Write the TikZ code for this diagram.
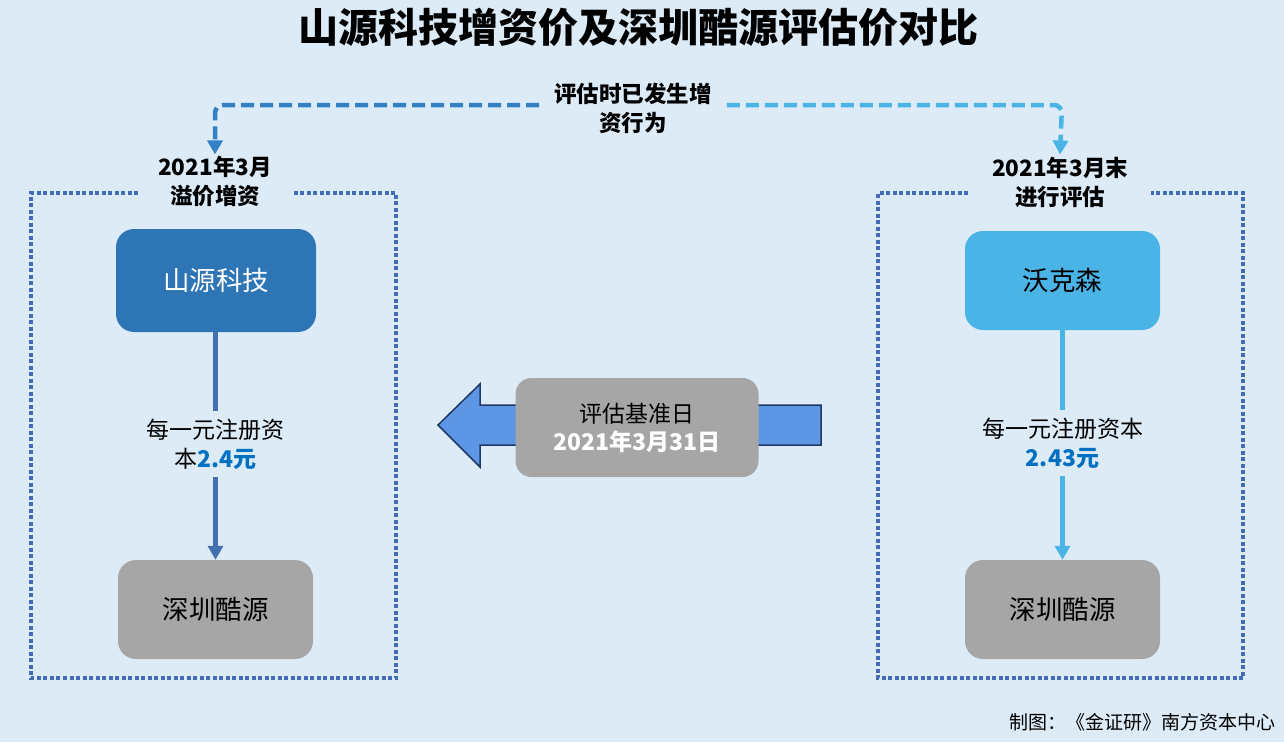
\documentclass[tikz,border=0pt]{standalone}
\usepackage{fontspec}
\setmainfont{Noto Sans CJK SC}
\usetikzlibrary{arrows.meta}
\definecolor{bg}{RGB}{221,235,247}
\definecolor{dkblue}{RGB}{46,117,182}
\definecolor{ltblue}{RGB}{75,180,230}
\definecolor{midblue}{RGB}{68,112,176}
\definecolor{dotblue}{RGB}{68,108,180}
\definecolor{boxgray}{RGB}{166,166,166}
\definecolor{numblue}{RGB}{0,112,192}
\definecolor{arrfill}{RGB}{93,150,228}
\definecolor{arrdraw}{RGB}{31,56,100}
\definecolor{dashl}{RGB}{52,128,196}
\begin{document}
\begin{tikzpicture}[x=1pt,y=-1pt,
  card/.style={rounded corners=18pt, minimum width=200pt, minimum height=103pt, inner sep=0pt, font=\fontsize{26.5}{30}\selectfont},
  hdr/.style={align=center, font=\fontsize{22.5}{29}\selectfont\bfseries, inner sep=2pt},
  midlbl/.style={align=center, font=\fontsize{23}{29}\selectfont, inner ysep=8pt, inner xsep=2pt},
  dotbox/.style={draw=dotblue, line width=3.5pt, dash pattern=on 4pt off 2.5pt},
  flow/.style={line width=5pt, -{Triangle[width=15pt,length=14pt]}},
  flowplain/.style={line width=5pt},
  dashc/.style={line width=4.5pt, dash pattern=on 13pt off 6pt, rounded corners=8pt, -{Triangle[width=15pt,length=14pt]}}
]
\fill[bg] (0,0) rectangle (1284,742);
\useasboundingbox (0,0) rectangle (1284,742);

% title
\node[font=\fontsize{40}{44}\selectfont\bfseries] (title) at (638,27) {山源科技增资价及深圳酷源评估价对比};

% dotted frames
\draw[dotbox] (138,193) -- (31,193) -- (31,678) -- (396,678) -- (396,193) -- (294,193);
\draw[dotbox] (968,193) -- (878,193) -- (878,678) -- (1243,678) -- (1243,193) -- (1151,193);

% headers
\node[hdr] (lt) at (215,182) {2021年3月\\溢价增资};
\node[hdr] (rt) at (1060,182) {2021年3月末\\进行评估};
\node[hdr] (evt) at (633,108) {评估时已发生增\\资行为};

% cards
\node[card, fill=dkblue, text=white, minimum width=200pt, minimum height=103pt] (sy) at (216,280.5) {山源科技};
\node[card, fill=ltblue, text=black, minimum width=195pt, minimum height=99pt] (wks) at (1062.5,280.5) {沃克森};
\node[card, fill=boxgray, text=black, minimum width=195pt, minimum height=99pt] (szl) at (215.5,609.5) {深圳酷源};
\node[card, fill=boxgray, text=black, minimum width=195pt, minimum height=99pt] (szr) at (1062.5,609.5) {深圳酷源};

% middle labels
\node[midlbl] (lm) at (215.5,444) {每一元注册资\\本{\color{numblue}\bfseries 2.4元}};
\node[midlbl] (rm) at (1062.5,443) {每一元注册资本\\{\color{numblue}\bfseries 2.43元}};

% vertical connectors
\draw[flowplain, midblue] (lm.north |- sy.south) -- (lm.north);
\draw[flow, midblue] (lm.south) -- (lm.south |- szl.north);
\draw[flowplain, ltblue] (rm.north |- wks.south) -- (rm.north);
\draw[flow, ltblue] (rm.south) -- (rm.south |- szr.north);

% top dashed connectors
\coordinate (lc) at (215,105);
\coordinate (rc) at (1062,105);
\draw[dashc, dashl] (evt.west |- lc) ++(-13,0) -- (lc) -- (lt.north);
\draw[dashc, ltblue] (evt.east |- rc) ++(13,0) -- (rc) -- (rt.north);

% central big arrow
\draw[fill=arrfill, draw=arrdraw, line width=1.5pt, line join=miter]
  (821,405) -- (480,405) -- (480,384) -- (438,425) -- (480,467) -- (480,445) -- (821,445) -- cycle;
\node[rounded corners=16pt, fill=boxgray, minimum width=243pt, minimum height=99pt, inner sep=0pt, align=center, font=\fontsize{23}{28}\selectfont] (ref) at (637,427.5)
  {评估基准日\\{\color{white}\bfseries 2021年3月31日}};

% footer
\node[anchor=east, font=\fontsize{19}{22}\selectfont, inner sep=0pt] (foot) at (1276,722) {制图：《金证研》南方资本中心};
\end{tikzpicture}
\end{document}
